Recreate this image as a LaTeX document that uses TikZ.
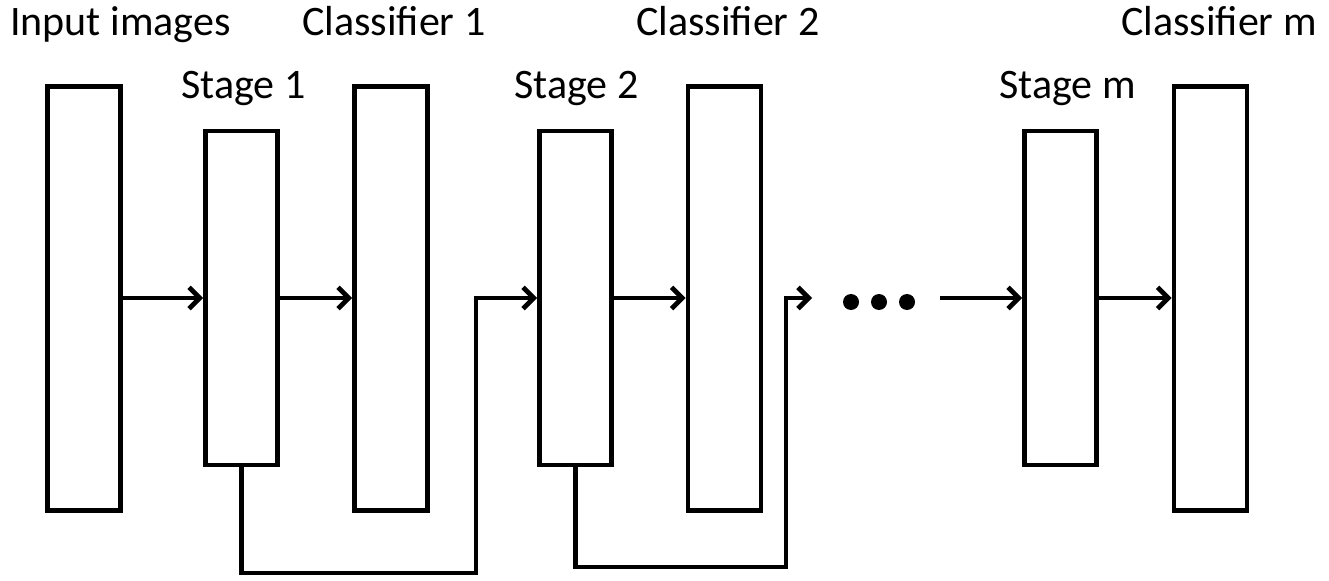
\documentclass[tikz,border=0pt]{standalone}
\usepackage{fontspec}
\setmainfont{Carlito}
\usetikzlibrary{arrows.meta}
\begin{document}
\begin{tikzpicture}[x=0.75pt,y=-0.75pt,
  tallbox/.style={draw=black,line width=3.6pt,minimum width=54.75pt,minimum height=318pt,inner sep=0pt},
  stagebox/.style={draw=black,line width=3.6pt,minimum width=54pt,minimum height=250.5pt,inner sep=0pt},
  lbl/.style={anchor=base west,inner sep=0pt,font=\fontsize{31.5pt}{36pt}\selectfont},
  arr/.style={line width=3.6pt,-{Straight Barb[length=8pt,width=16pt,line width=3.6pt]}},
  dotnode/.style={circle,fill=black,inner sep=0pt,minimum size=12pt}]
\useasboundingbox (0,0) rectangle (1329,581);
% boxes
\node[tallbox] (in) at (84,298.5) {};
\node[stagebox] (s1) at (241.5,298) {};
\node[tallbox] (c1) at (391,298.5) {};
\node[stagebox] (s2) at (575.5,298) {};
\node[tallbox] (c2) at (724.5,298.5) {};
\node[stagebox] (sm) at (1060.5,298) {};
\node[tallbox] (cm) at (1210.5,298.5) {};
% labels
\node[lbl] (lin) at (10,36) {Input images};
\node[lbl] (lc1) at (302,36) {Classifier 1};
\node[lbl] (lc2) at (636,36) {Classifier 2};
\node[lbl] (lcm) at (1121,36) {Classifier m};
\node[lbl] (ls1) at (181,99) {Stage 1};
\node[lbl] (ls2) at (514,99) {Stage 2};
\node[lbl] (lsm) at (999,99) {Stage m};
% dots
\node[dotnode] (d1) at (851,302) {};
\node[dotnode] (d2) at (879,302) {};
\node[dotnode] (d3) at (907,302) {};
% helper coordinates
\coordinate (k1) at (476,573);
\coordinate (k2) at (786,567);
\coordinate (e2) at (812,298);
\coordinate (a3) at (940,298);
% connectors
\draw[arr] (in.east |- s1.west) -- (s1.west);
\draw[arr] (s1.east) -- (c1.west |- s1.east);
\draw[arr] (s2.east) -- (c2.west |- s2.east);
\draw[arr] (sm.east) -- (cm.west |- sm.east);
\draw[arr] (a3) -- (sm.west);
\draw[arr] (s1.south) |- (k1) |- (s2.west);
\draw[arr] (s2.south) |- (k2) |- (e2);
\end{tikzpicture}
\end{document}
